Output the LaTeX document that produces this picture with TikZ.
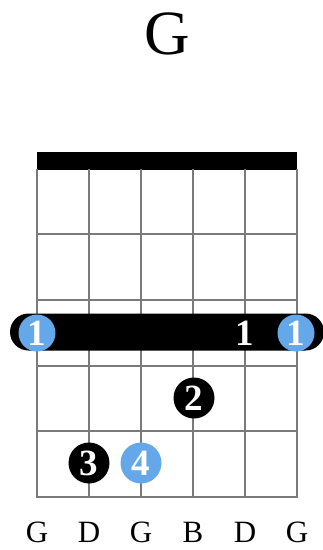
\documentclass[tikz,border=0pt]{standalone}
\usepackage{fontspec}
\setmainfont{Liberation Serif}
\definecolor{fingerblue}{HTML}{64A8EA}
\definecolor{gridgray}{HTML}{7A7A7A}
\begin{document}
\begin{tikzpicture}[x=1pt,y=-1pt,
  gridline/.style={draw=gridgray, line width=1.3pt},
  dot/.style={circle, minimum size=41pt, inner sep=0pt, text=white,
    font=\bfseries\fontsize{37}{37}\selectfont},
  blackdot/.style={dot, fill=black},
  bluedot/.style={dot, fill=fingerblue},
  barredot/.style={dot, minimum size=37pt, fill=fingerblue},
  stringlabel/.style={font=\fontsize{31}{31}\selectfont, inner sep=0pt},
  titlelabel/.style={font=\fontsize{63}{63}\selectfont, inner sep=0pt}
]
\useasboundingbox (0,0) rectangle (322,550);
% title
\node[titlelabel, anchor=base] (title) at (167.5,54) {G};
% nut
\fill[black] (37,152) rectangle (297,169.5);
% frets
\foreach \y [count=\i] in {234,300,366,431,497} {
  \draw[gridline] (37,\y) -- (297,\y);
}
% strings
\foreach \x [count=\i] in {37,89,141,193,245,297} {
  \draw[gridline] (\x,169) -- (\x,497.6);
}
% barre
\node[fill=black, minimum width=314pt, minimum height=37pt, rounded corners=18.5pt, inner sep=0pt] (barre) at (167,332) {};
\node[barredot] (b1) at (37,333) {1};
\node[barredot] (b6) at (296,333) {1};
\node[text=white, inner sep=0pt, font=\bfseries\fontsize{37}{37}\selectfont] (b5) at (245,333) {1};
% fingers
\node[blackdot] (f2) at (194,398) {2};
\node[blackdot] (f3) at (89,463) {3};
\node[bluedot] (f4) at (141,463) {4};
% string names
\foreach \x/\n [count=\i] in {37/G,89/D,141/G,193/B,245/D,297/G} {
  \node[stringlabel, anchor=base] (s\i) at (\x,542) {\n};
}
\end{tikzpicture}
\end{document}
